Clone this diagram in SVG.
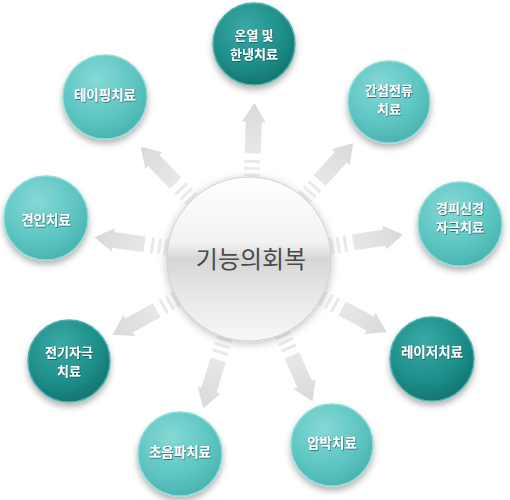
<svg xmlns="http://www.w3.org/2000/svg" width="510" height="500" viewBox="0 0 510 500">
<defs>
  <radialGradient id="gDark" cx="0.4" cy="0.3" r="0.75">
    <stop offset="0" stop-color="#3aa9a5"/>
    <stop offset="0.6" stop-color="#1f8f8b"/>
    <stop offset="1" stop-color="#12726f"/>
  </radialGradient>
  <radialGradient id="gLight" cx="0.4" cy="0.3" r="0.75">
    <stop offset="0" stop-color="#86d8d5"/>
    <stop offset="0.6" stop-color="#5ec6c3"/>
    <stop offset="1" stop-color="#47b1ae"/>
  </radialGradient>
  <linearGradient id="gCenter" x1="0" y1="0" x2="0" y2="1">
    <stop offset="0" stop-color="#ffffff"/>
    <stop offset="0.4" stop-color="#f2f2f2"/>
    <stop offset="0.5" stop-color="#d6d6d6"/>
    <stop offset="0.7" stop-color="#e6e6e6"/>
    <stop offset="1" stop-color="#f7f7f7"/>
  </linearGradient>
  <linearGradient id="gArrow" gradientUnits="userSpaceOnUse" x1="0" y1="-156" x2="0" y2="-83">
    <stop offset="0" stop-color="#d9d9d9"/>
    <stop offset="1" stop-color="#eeeeee"/>
  </linearGradient>
  <filter id="shadow" x="-30%" y="-30%" width="160%" height="170%">
    <feDropShadow dx="0" dy="4" stdDeviation="3" flood-color="#000" flood-opacity="0.3"/>
  </filter>
  <filter id="cshadow" x="-20%" y="-20%" width="140%" height="140%">
    <feDropShadow dx="0" dy="2" stdDeviation="4" flood-color="#000" flood-opacity="0.25"/>
  </filter>
  <filter id="tshadow" x="-10%" y="-30%" width="120%" height="160%">
    <feDropShadow dx="0.6" dy="0.8" stdDeviation="0.4" flood-color="#0a4a48" flood-opacity="0.8"/>
  </filter>
  <g id="arrow">
    <polygon points="0,-156 -12,-137 12,-137" fill="url(#gArrow)"/>
    <rect x="-8" y="-137.5" width="16" height="32" fill="url(#gArrow)"/>
    <rect x="-8" y="-99" width="16" height="3" fill="#e8e8e8"/>
    <rect x="-8" y="-92" width="16" height="3" fill="#ebebeb"/>
    <rect x="-8" y="-85.5" width="16" height="3" fill="#eeeeee"/>
  </g>
</defs>
<style>
  .dark { fill: url(#gDark); stroke: #4fb1ad; stroke-width: 1.5; }
  .light { fill: url(#gLight); stroke: #8fdcd9; stroke-width: 1.5; }
  .lbl { font-family: "Noto Sans CJK KR", "Noto Sans", sans-serif; font-size: 13px; font-weight: bold; fill: #ffffff; text-anchor: middle; }
  .big { font-size: 13.5px; }
  .ctr { font-family: "Noto Sans CJK KR", "Noto Sans", sans-serif; font-size: 24px; fill: #4a4a4a; text-anchor: middle; }
</style>
<rect width="510" height="500" fill="#ffffff"/>
<g id="connectors">
  <use href="#arrow" transform="translate(249,259) rotate(2)"/>
  <use href="#arrow" transform="translate(249,259) rotate(-44)"/>
  <use href="#arrow" transform="translate(249,259) rotate(-82)"/>
  <use href="#arrow" transform="translate(249,259) rotate(-119)"/>
  <use href="#arrow" transform="translate(249,259) rotate(-163)"/>
  <use href="#arrow" transform="translate(249,259) rotate(156)"/>
  <use href="#arrow" transform="translate(249,259) rotate(118)"/>
  <use href="#arrow" transform="translate(249,259) rotate(81)"/>
  <use href="#arrow" transform="translate(249,259) rotate(42)"/>
</g>
<g id="center">
  <circle cx="249" cy="259" r="82" fill="url(#gCenter)" stroke="#cfcfcf" stroke-width="1" filter="url(#cshadow)"/>
  <text class="ctr" x="251" y="268">기능의회복</text>
</g>
<g id="n-heat">
  <circle class="dark" cx="254" cy="44" r="41" filter="url(#shadow)"/>
  <text class="lbl" filter="url(#tshadow)" x="254" y="40">온열 및</text>
  <text class="lbl" filter="url(#tshadow)" x="254" y="59">한냉치료</text>
</g>
<g id="n-interference">
  <circle class="light" cx="389" cy="102" r="41" filter="url(#shadow)"/>
  <text class="lbl" filter="url(#tshadow)" x="389" y="95">간섭전류</text>
  <text class="lbl" filter="url(#tshadow)" x="389" y="114">치료</text>
</g>
<g id="n-tens">
  <circle class="light" cx="460" cy="224" r="42" filter="url(#shadow)"/>
  <text class="lbl" filter="url(#tshadow)" x="460" y="213">경피신경</text>
  <text class="lbl" filter="url(#tshadow)" x="460" y="232">자극치료</text>
</g>
<g id="n-laser">
  <circle class="dark" cx="432" cy="359" r="42" filter="url(#shadow)"/>
  <text class="lbl big" filter="url(#tshadow)" x="432" y="357">레이저치료</text>
</g>
<g id="n-compression">
  <circle class="light" cx="332" cy="445" r="41" filter="url(#shadow)"/>
  <text class="lbl big" filter="url(#tshadow)" x="332" y="448">압박치료</text>
</g>
<g id="n-ultrasound">
  <circle class="light" cx="180" cy="454" r="42" filter="url(#shadow)"/>
  <text class="lbl big" filter="url(#tshadow)" x="180" y="457">초음파치료</text>
</g>
<g id="n-electric">
  <circle class="dark" cx="69" cy="361" r="41" filter="url(#shadow)"/>
  <text class="lbl" filter="url(#tshadow)" x="69" y="357">전기자극</text>
  <text class="lbl" filter="url(#tshadow)" x="69" y="376">치료</text>
</g>
<g id="n-traction">
  <circle class="light" cx="46" cy="218" r="42" filter="url(#shadow)"/>
  <text class="lbl big" filter="url(#tshadow)" x="46" y="225">견인치료</text>
</g>
<g id="n-taping">
  <circle class="light" cx="105" cy="97" r="42" filter="url(#shadow)"/>
  <text class="lbl big" filter="url(#tshadow)" x="105" y="100">테이핑치료</text>
</g>
</svg>
